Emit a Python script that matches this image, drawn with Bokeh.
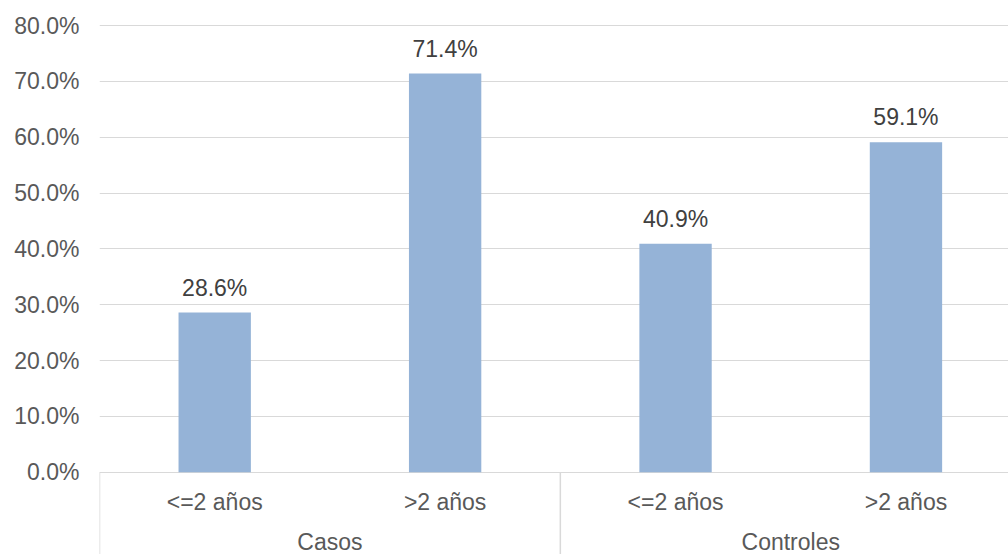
from bokeh.plotting import figure
from bokeh.models import Range1d, FixedTicker, NumeralTickFormatter, ColumnDataSource
from bokeh.core.properties import value
from bokeh.embed import file_html
from bokeh.resources import INLINE

groups = ["Casos", "Controles"]
subcats = ["<=2 años", ">2 años"]
values = [0.286, 0.714, 0.409, 0.591]
value_labels = ["28.6%", "71.4%", "40.9%", "59.1%"]
y_ticks = [0.0, 0.1, 0.2, 0.3, 0.4, 0.5, 0.6, 0.7, 0.8]

FONT = "Liberation Sans"
TXT = "#595959"
GRID = "#D9D9D9"
BAR = "#95B3D7"

n_sub = len(subcats)
n = len(groups) * n_sub
x_centers = [i + 0.5 for i in range(n)]
sub_labels = [subcats[i % n_sub] for i in range(n)]
group_centers = [g * n_sub + n_sub / 2 for g in range(len(groups))]
seps = [g * n_sub for g in range(len(groups) + 1)]

y_lo, y_hi = -0.1474, 0.8448

p = figure(width=1008, height=554, output_backend="svg", toolbar_location=None,
           x_range=Range1d(0, 3.945), y_range=Range1d(y_lo, y_hi),
           min_border=0, min_border_left=99)
p.outline_line_color = None
p.background_fill_color = "white"
p.border_fill_color = "white"
p.xaxis.visible = False
p.xgrid.visible = False

ax = p.yaxis[0]
ax.ticker = FixedTicker(ticks=y_ticks)
ax.formatter = NumeralTickFormatter(format="0.0%")
ax.axis_line_color = None
ax.major_tick_line_color = None
ax.minor_tick_line_color = None
ax.major_tick_out = 0
ax.major_tick_in = 0
ax.major_label_text_font = FONT
ax.major_label_text_font_size = "23px"
ax.major_label_text_color = TXT
ax.major_label_standoff = 20

p.ygrid.ticker = FixedTicker(ticks=y_ticks)
p.ygrid.grid_line_color = GRID
p.ygrid.grid_line_width = 1

src = ColumnDataSource(dict(x=x_centers, top=values, lab=value_labels, sub=sub_labels))
p.vbar(x="x", top="top", bottom=0, width=0.314, source=src, fill_color=BAR, line_color=None)

p.text(x="x", y="top", text="lab", source=src, text_font=value(FONT), text_font_size="23px",
       text_color="#404040", text_align="center", text_baseline="middle", y_offset=-25)

p.segment(x0=seps, y0=[0] * len(seps), x1=seps, y1=[y_lo] * len(seps), line_color=GRID, line_width=1.5)

p.text(x=x_centers, y=[-0.0525] * n, text=sub_labels, text_font=value(FONT), text_font_size="23px",
       text_color=TXT, text_align="center", text_baseline="middle")
p.text(x=group_centers, y=[-0.1245] * len(groups), text=groups, text_font=value(FONT), text_font_size="23px",
       text_color=TXT, text_align="center", text_baseline="middle")

open("out.html", "w").write(file_html(p, INLINE))
